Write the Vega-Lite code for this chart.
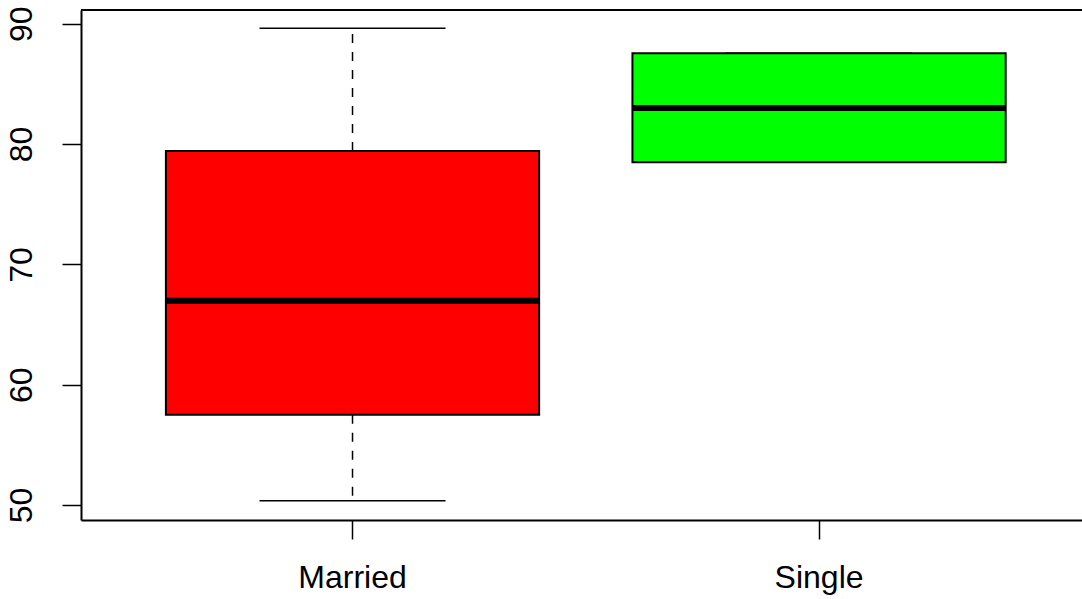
{
  "$schema": "https://vega.github.io/schema/vega-lite/v6.json",
  "width": 1001,
  "height": 510,
  "autosize": {"type": "none"},
  "padding": {"left": 81, "top": 10, "right": 0, "bottom": 79},
  "background": "white",
  "config": {
    "view": {"stroke": null},
    "font": "Liberation Sans"
  },
  "data": {
    "values": [
      {"group": "Married", "lower": 50.37, "q1": 57.51, "median": 66.97, "q3": 79.42, "upper": 89.63, "color": "#FF0000"},
      {"group": "Single", "lower": 78.48, "q1": 78.48, "median": 82.99, "q3": 87.54, "upper": 87.54, "color": "#00FF00"}
    ]
  },
  "layer": [
    {
      "encoding": {
        "x": {
          "field": "group",
          "type": "nominal",
          "sort": ["Married", "Single"],
          "scale": {"paddingInner": 0.2, "paddingOuter": 0.1728, "align": 0.5266},
          "axis": {
            "title": null,
            "labelAngle": 0,
            "labelFont": "Liberation Sans",
            "labelFontSize": 32,
            "labelColor": "black",
            "labelPadding": 23,
            "labelBaseline": "top",
            "tickSize": 19,
            "tickColor": "black",
            "tickWidth": 1.5,
            "domainColor": "black",
            "domainWidth": 2,
            "grid": false
          }
        }
      },
      "layer": [
        {
          "mark": {"type": "rule", "color": "black", "strokeWidth": 1.5, "strokeDash": [9, 9]},
          "encoding": {
            "y": {
              "field": "q3",
              "type": "quantitative",
              "scale": {"domain": [48.76, 91.14], "nice": false, "zero": false},
              "axis": {
                "title": null,
                "values": [50, 60, 70, 80, 90],
                "grid": false,
                "labelFont": "Liberation Sans",
                "labelFontSize": 32,
                "labelColor": "black",
                "labelAngle": -90,
                "labelAlign": "center",
                "labelBaseline": "bottom",
                "labelPadding": 24,
                "tickSize": 19,
                "tickColor": "black",
                "tickWidth": 1.5,
                "domainColor": "black",
                "domainWidth": 2
              }
            },
            "y2": {"field": "upper"}
          }
        },
        {
          "mark": {"type": "rule", "color": "black", "strokeWidth": 1.5, "strokeDash": [9, 9]},
          "encoding": {
            "y": {"field": "q1", "type": "quantitative"},
            "y2": {"field": "lower"}
          }
        },
        {
          "mark": {"type": "tick", "color": "black", "size": 186, "thickness": 1.5, "opacity": 1},
          "encoding": {"y": {"field": "upper", "type": "quantitative"}}
        },
        {
          "mark": {"type": "tick", "color": "black", "size": 186, "thickness": 1.5, "opacity": 1},
          "encoding": {"y": {"field": "lower", "type": "quantitative"}}
        },
        {
          "mark": {"type": "bar", "stroke": "black", "strokeWidth": 2, "opacity": 1},
          "encoding": {
            "y": {"field": "q1", "type": "quantitative"},
            "y2": {"field": "q3"},
            "fill": {"field": "color", "type": "nominal", "scale": null}
          }
        },
        {
          "mark": {"type": "tick", "color": "black", "size": 374, "thickness": 6, "opacity": 1},
          "encoding": {"y": {"field": "median", "type": "quantitative"}}
        }
      ]
    },
    {
      "mark": {"type": "rule", "color": "black", "strokeWidth": 2},
      "encoding": {"y": {"datum": 91.14}}
    }
  ]
}
